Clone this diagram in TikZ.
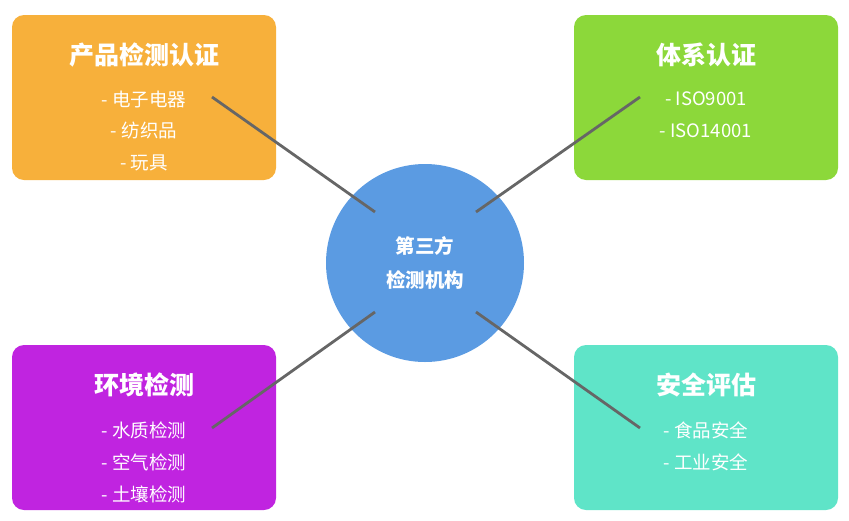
\documentclass[tikz,border=0pt]{standalone}
\usepackage{fontspec}
\setmainfont{Noto Sans CJK SC}
\begin{document}
\begin{tikzpicture}[x=1pt,y=-1pt,
  box/.style={rounded corners=12pt, inner sep=0pt},
  ttl/.style={font=\fontsize{25}{28}\selectfont\bfseries, text=white},
  itm/.style={font=\fontsize{18.5}{22}\selectfont, text=white},
  conn/.style={draw=black!60, line width=2.8pt}]
\useasboundingbox (0,0) rectangle (849,520);
\definecolor{cO}{HTML}{F7B03B}\definecolor{cG}{HTML}{8CD83A}
\definecolor{cP}{HTML}{C024E0}\definecolor{cT}{HTML}{5FE4C8}
\definecolor{cB}{HTML}{5B9BE2}
\fill[cO,box] (12,15) rectangle (276,180);
\fill[cG,box] (574,15) rectangle (838,180);
\fill[cP,box] (12,345) rectangle (276,510);
\fill[cT,box] (574,345) rectangle (838,510);
\node[ttl] (t1) at (144,55) {产品检测认证};
\node[itm] (a1) at (144,99) {- 电子电器};
\node[itm] (a2) at (144,131) {- 纺织品};
\node[itm] (a3) at (144,163) {- 玩具};
\node[ttl] (t2) at (706,55) {体系认证};
\node[itm] (b1) at (706,99) {- ISO9001};
\node[itm] (b2) at (706,131) {- ISO14001};
\node[ttl] (t3) at (144,385) {环境检测};
\node[itm] (c1) at (144,430) {- 水质检测};
\node[itm] (c2) at (144,462) {- 空气检测};
\node[itm] (c3) at (144,494) {- 土壤检测};
\node[ttl] (t4) at (706,385) {安全评估};
\node[itm] (d1) at (706,430) {- 食品安全};
\node[itm] (d2) at (706,462) {- 工业安全};
\node[circle, fill=cB, minimum size=198pt, inner sep=0pt, align=center,
  font=\fontsize{19.5}{34}\selectfont\bfseries, text=white] (c) at (425,263) {第三方\\检测机构};
\coordinate (p1) at (212,97); \coordinate (q1) at (375,212);
\coordinate (p2) at (640,97); \coordinate (q2) at (476,212);
\coordinate (p3) at (212,428); \coordinate (q3) at (375,312);
\coordinate (p4) at (640,428); \coordinate (q4) at (476,312);
\draw[conn] (p1) -- (q1); \draw[conn] (p2) -- (q2);
\draw[conn] (p3) -- (q3); \draw[conn] (p4) -- (q4);
\end{tikzpicture}
\end{document}
